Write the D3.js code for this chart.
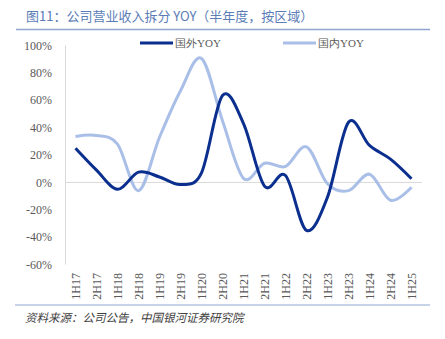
<!DOCTYPE html>
<html><head><meta charset="utf-8">
<script src="https://cdn.jsdelivr.net/npm/d3@7/dist/d3.min.js"></script>
<style>body{margin:0;background:#fff}</style>
</head><body>
<script>
const categories = ["1H17","2H17","1H18","2H18","1H19","2H19","1H20","2H20","1H21","2H21","1H22","2H22","1H23","2H23","1H24","2H24","1H25"];
const foreignYoy = [25, 9, -5, 7.5, 4, -1.5, 7, 63.5, 43, -2.7, 5, -35, -10.7, 44, 27, 17, 2.7];
const domesticYoy = [33.6, 34.3, 28, -6, 33, 67, 90.5, 45, 3, 14, 11.7, 26, -1, -6, 6, -13, -3.5];
const yTicks = [100, 80, 60, 40, 20, 0, -20, -40, -60];
const seriesNames = ["国外YOY", "国内YOY"];

const W = 445, H = 339;
const svg = d3.select("body").append("svg").attr("width", W).attr("height", H);
const serif = "'Liberation Serif','Times New Roman',serif";
const cjk = "'Noto Sans CJK SC',sans-serif";

// title
svg.append("text").attr("x", 26).attr("y", 21).attr("fill", "#5b7db6")
  .attr("font-family", cjk).attr("font-size", 13).text("图11：公司营业收入拆分 YOY（半年度，按区域）");
svg.append("line").attr("x1", 16).attr("x2", 430).attr("y1", 29.5).attr("y2", 29.5)
  .attr("stroke", "#8ea6cf").attr("stroke-width", 1.5);

const x = d3.scaleBand().domain(categories).range([65, 422]);
const y = d3.scaleLinear().domain([-60, 100]).range([264.6, 45.5]);

// y axis line
svg.append("line").attr("x1", 65.5).attr("x2", 65.5).attr("y1", y(100)).attr("y2", y(-60))
  .attr("stroke", "#d9d9d9");
// zero line
svg.append("line").attr("x1", 65).attr("x2", 422).attr("y1", y(0)).attr("y2", y(0))
  .attr("stroke", "#d9d9d9");

// y labels
svg.append("g").selectAll("text").data(yTicks).join("text")
  .attr("x", 52).attr("y", d => y(d)).attr("dy", "0.35em").attr("text-anchor", "end")
  .attr("font-family", serif).attr("font-size", 12).attr("fill", "#595959")
  .text(d => d + "%");

// x labels
svg.append("g").selectAll("text").data(categories).join("text")
  .attr("transform", d => `translate(${x(d) + x.bandwidth() / 2},273) rotate(-90)`)
  .attr("dy", "0.35em").attr("text-anchor", "end")
  .attr("font-family", serif).attr("font-size", 12).attr("fill", "#595959")
  .text(d => d);

const line = d3.line()
  .x((d, i) => x(categories[i]) + x.bandwidth() / 2)
  .y(d => y(d))
  .curve(d3.curveCardinal.tension(0));

svg.append("path").datum(domesticYoy).attr("d", line).attr("fill", "none")
  .attr("stroke", "#a9bfe8").attr("stroke-width", 3);
svg.append("path").datum(foreignYoy).attr("d", line).attr("fill", "none")
  .attr("stroke", "#0b2f8e").attr("stroke-width", 3);

// legend
const leg = [{n: seriesNames[0], c: "#0b2f8e", x: 140}, {n: seriesNames[1], c: "#a9bfe8", x: 283}];
leg.forEach(l => {
  svg.append("line").attr("x1", l.x).attr("x2", l.x + 33).attr("y1", 43).attr("y2", 43)
    .attr("stroke", l.c).attr("stroke-width", 3);
  svg.append("text").attr("x", l.x + 35).attr("y", 43).attr("dy", "0.35em")
    .attr("font-family", serif).attr("font-size", 11).attr("fill", "#595959").text(l.n);
});

// bottom line and source
svg.append("line").attr("x1", 15).attr("x2", 430).attr("y1", 305).attr("y2", 305)
  .attr("stroke", "#8ea6cf").attr("stroke-width", 1);
svg.append("text").attr("x", 25).attr("y", 322).attr("font-family", cjk)
  .attr("font-size", 11.5).attr("font-style", "italic").attr("fill", "#404040")
  .text("资料来源：公司公告，中国银河证券研究院");
</script>
</body></html>
